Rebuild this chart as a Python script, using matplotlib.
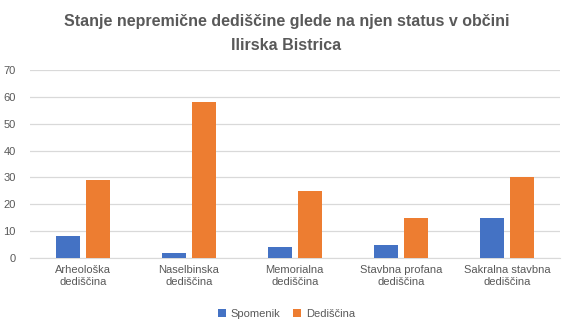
import numpy as np
import matplotlib
matplotlib.use('Agg')
import matplotlib.pyplot as plt

plt.rcParams['font.family'] = ['Liberation Sans', 'DejaVu Sans']

# data
categories = ['Arheološka\ndediščina', 'Naselbinska\ndediščina', 'Memorialna\ndediščina',
              'Stavbna profana\ndediščina', 'Sakralna stavbna\ndediščina']
spomenik = [8, 2, 4, 5, 15]
dediscina = [29, 58, 25, 15, 30]
series_names = ['Spomenik', 'Dediščina']

txt_col = '#595959'
fig = plt.figure(figsize=(5.73, 3.32), dpi=100)
ax = fig.add_axes([0.052, 0.223, 0.925, 0.566])

x = np.arange(len(categories))
w = 0.226
ax.bar(x - 0.142, spomenik, w, color='#4472C4', label=series_names[0], zorder=3)
ax.bar(x + 0.142, dediscina, w, color='#ED7D31', label=series_names[1], zorder=3)

ax.set_xlim(-0.5, len(categories) - 0.5)
ax.set_ylim(0, 70)
ax.set_yticks(range(0, 71, 10))
ax.yaxis.grid(True, color='#D9D9D9', linewidth=0.9, zorder=0)
ax.set_xticks(x)
ax.set_xticklabels(categories, fontsize=8, color=txt_col, linespacing=1.3)
ax.tick_params(axis='y', labelsize=8, labelcolor=txt_col, length=0, pad=10)
ax.tick_params(axis='x', length=0, pad=5)
for s in ['top', 'right', 'left']:
    ax.spines[s].set_visible(False)
ax.spines['bottom'].set_color('#D9D9D9')

fig.text(0.5, 0.935, 'Stanje nepremične dediščine glede na njen status v občini',
         ha='center', va='center', fontsize=11.5, fontweight='bold', color=txt_col)
fig.text(0.5, 0.862, 'Ilirska Bistrica', ha='center', va='center',
         fontsize=11.5, fontweight='bold', color=txt_col)

fig.legend(loc='center', bbox_to_anchor=(0.5, 0.055), ncol=2, frameon=False,
           fontsize=8, labelcolor=txt_col, handlelength=0.7, handleheight=0.7,
           columnspacing=1.2, handletextpad=0.4)

fig.savefig('out.png', dpi=100)
